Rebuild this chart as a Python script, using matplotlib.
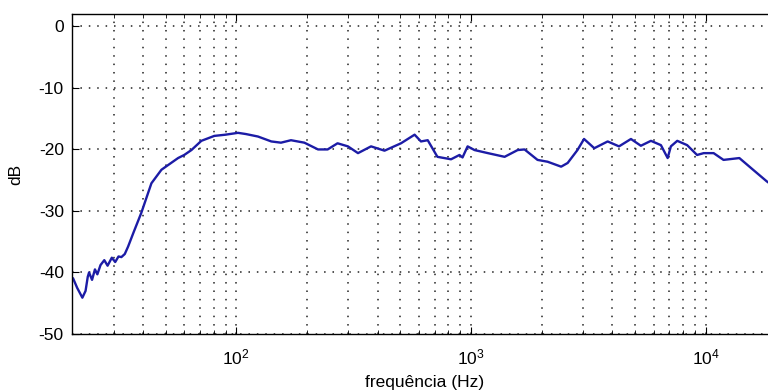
import matplotlib.pyplot as plt
from matplotlib.ticker import LogLocator, NullFormatter

plt.rcParams['font.family'] = ['Liberation Sans', 'DejaVu Sans']
plt.rcParams['mathtext.fontset'] = 'custom'
plt.rcParams['mathtext.rm'] = 'Liberation Sans'
plt.rcParams['mathtext.it'] = 'Liberation Sans'
plt.rcParams['axes.unicode_minus'] = False

# resposta em frequência (Hz, dB)
freq = [20.2, 21.0, 22.1, 22.8, 23.3, 23.6, 24.3, 25.0, 25.6, 26.4, 27.4, 28.3,
        29.5, 30.5, 31.5, 32.4, 33.5, 34.6, 36.5, 39.4, 43.5, 48.0, 56.5, 60.0,
        64.4, 71.0, 80.6, 90.0, 101.7, 110.0, 123.7, 141.0, 155.0, 171.0, 195.0,
        223.0, 245.0, 270.0, 299.0, 330.0, 375.0, 428.0, 503.0, 575.0, 612.0,
        654.0, 719.0, 822.0, 893.0, 920.0, 967.0, 1035.0, 1180.0, 1390.0,
        1580.0, 1690.0, 1920.0, 2120.0, 2420.0, 2580.0, 2840.0, 3030.0, 3350.0,
        3820.0, 4270.0, 4800.0, 5290.0, 5840.0, 6440.0, 6880.0, 7100.0, 7560.0,
        8330.0, 9180.0, 9800.0, 10800.0, 11900.0, 13900.0, 15900.0, 18200.0,
        19500.0]
db = [-41.0, -42.5, -44.1, -43.0, -40.7, -40.0, -41.2, -39.5, -40.3, -38.8,
      -38.0, -38.9, -37.6, -38.3, -37.4, -37.5, -37.0, -35.8, -33.5, -30.3,
      -25.5, -23.3, -21.4, -20.9, -20.1, -18.6, -17.8, -17.6, -17.3, -17.5,
      -17.9, -18.7, -18.9, -18.5, -18.9, -20.0, -20.0, -19.0, -19.5, -20.6,
      -19.5, -20.2, -19.0, -17.6, -18.7, -18.5, -21.2, -21.6, -20.9, -21.3,
      -19.5, -20.1, -20.6, -21.2, -20.1, -20.0, -21.7, -22.0, -22.8, -22.2,
      -20.1, -18.3, -19.8, -18.7, -19.5, -18.3, -19.4, -18.6, -19.3, -21.4,
      -19.5, -18.6, -19.3, -20.9, -20.6, -20.6, -21.7, -21.4, -23.3, -25.2,
      -26.0]

fig = plt.figure(figsize=(7.68, 3.92), dpi=100)
ax = fig.add_axes([0.094, 0.148, 0.917, 0.816])

ax.semilogx(freq, db, color='#1c1ca6', linewidth=1.7)

ax.set_xlim(20, 20000)
ax.set_ylim(-50, 2)
ax.set_yticks([0, -10, -20, -30, -40, -50])
ax.xaxis.set_major_locator(LogLocator(base=10))
ax.xaxis.set_minor_locator(LogLocator(base=10, subs=range(2, 10)))
ax.xaxis.set_minor_formatter(NullFormatter())

# grade pontilhada estilo MATLAB
dots = (0, (1, 4.5))
ax.grid(True, which='major', axis='both', linestyle=dots, color='#222222', linewidth=1.1)
ax.grid(True, which='minor', axis='x', linestyle=dots, color='#222222', linewidth=1.1)

ax.tick_params(which='both', direction='in', top=True, right=True, labelsize=12.5)
ax.tick_params(axis='y', pad=6)
ax.tick_params(axis='x', pad=10)
ax.tick_params(which='major', length=5)
ax.tick_params(which='minor', length=3)
for s in ax.spines.values():
    s.set_linewidth(1.0)

ax.set_xlabel('frequência (Hz)', fontsize=12.5, labelpad=5)
ax.set_ylabel('dB', fontsize=12.5, labelpad=11)

fig.savefig('out.png', dpi=100)
